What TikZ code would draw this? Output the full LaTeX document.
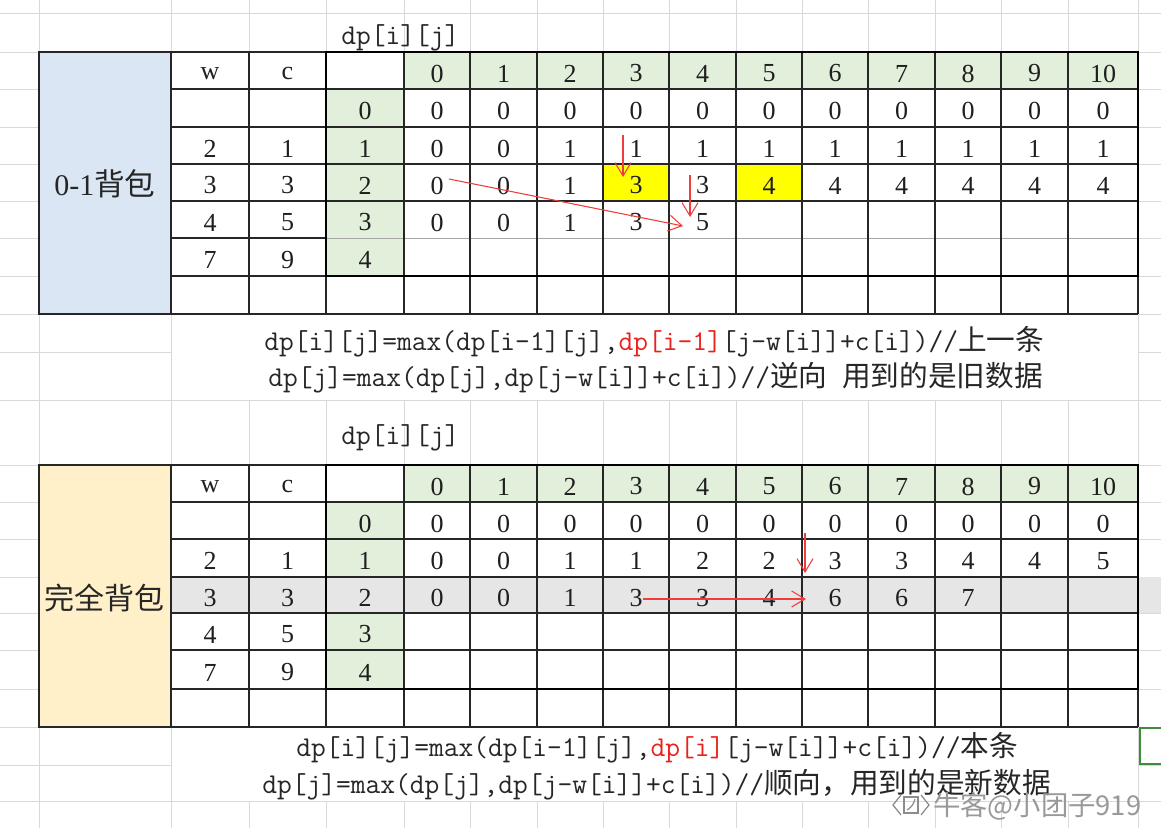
\documentclass[tikz,border=0pt]{standalone}
\usepackage{fontspec}
\newfontfamily\cjk{Noto Sans CJK SC}
\newfontfamily\digf{Liberation Serif}
\usetikzlibrary{arrows.meta}
\definecolor{gridgray}{HTML}{D9D9D9}
\definecolor{hdrgreen}{HTML}{E2EFDA}
\definecolor{lblblue}{HTML}{DAE6F4}
\definecolor{lblyellow}{HTML}{FFF0C9}
\definecolor{rowgray}{HTML}{E6E6E6}
\definecolor{cellyellow}{HTML}{FFFF00}
\definecolor{selgreen}{HTML}{3C8C3C}
\definecolor{arrred}{HTML}{F03C3C}
\definecolor{fred}{HTML}{E8231E}
\newcommand\dprow[4]{%
  \foreach \v [count=\k from 0] in {#4} {
    \pgfmathsetmacro\xx{{437,503.5,570,636,702.5,769,835,901.5,968,1034.5,1103}[\k]}
    \node[dig] (#1#2-\k) at (\xx,#3) {\v};
  }}
\newcommand\wci[6]{%
  \node[dig] (#1#2-w) at (210,#3) {#4};
  \node[dig] (#1#2-c) at (287.5,#3) {#5};
  \node[dig] (#1#2-i) at (365,#3) {#6};}
\begin{document}
\begin{tikzpicture}[x=0.75pt,y=-0.75pt,
  gl/.style={draw=gridgray,line width=0.75pt},
  bl/.style={draw=black!85,line width=1pt},
  thk/.style={draw=black,line width=1.9pt},
  dig/.style={font=\digf\fontsize{19.5}{24}\selectfont,inner sep=0pt,text=black!88},
  fml/.style={font=\ttfamily\fontsize{21.5}{25}\selectfont,anchor=west,inner sep=0pt,text=black!85},
  lbl/.style={font=\digf\fontsize{22.5}{26}\selectfont,inner sep=0pt,text=black!85},
  arr/.style={draw=arrred,line width=0.8pt,-{Straight Barb[length=10pt,width=12pt]}},
]
\useasboundingbox (0,0) rectangle (1161,828);
\fill[white] (0,0) rectangle (1161,828);

% background spreadsheet grid
\foreach \y in {13,52,89,127,164,201,238,276,314,400,465,502,539,577,613,650,689,727,801}
  \draw[gl] (0,\y) -- (1161,\y);
\foreach \y in {352,765} {\draw[gl] (0,\y) -- (171,\y); \draw[gl] (1138,\y) -- (1161,\y);}
\foreach \x in {39,171,1138} \draw[gl] (\x,0) -- (\x,828);
\foreach \x in {249,326,404,470,537,603,669,736,802,868,935,1001,1068} {
  \draw[gl] (\x,0) -- (\x,314); \draw[gl] (\x,400) -- (\x,727); \draw[gl] (\x,801) -- (\x,828);}

% fills top
\fill[lblblue] (39,52) rectangle (171,314);
\fill[hdrgreen] (404,52) rectangle (1138,89);
\fill[hdrgreen] (326,89) rectangle (404,276);
\fill[cellyellow] (603,164) rectangle (669,201);
\fill[cellyellow] (736,164) rectangle (802,201);
% fills bottom
\fill[lblyellow] (39,465) rectangle (171,727);
\fill[hdrgreen] (404,465) rectangle (1138,502);
\fill[rowgray] (171,577) rectangle (1161,613);
\fill[hdrgreen] (326,502) rectangle (404,577);
\fill[hdrgreen] (326,613) rectangle (404,689);

% top table lines
\foreach \y in {52,89,127,164,201,276,314} \draw[bl] (171,\y) -- (1138,\y);
\draw[bl] (171,238) -- (326,238);
\draw[draw=black!35,line width=0.6pt] (326,238) -- (1138,238);
\foreach \x in {171,249,326,404,470,537,603,669,736,802,868,935,1001,1068,1138} \draw[bl] (\x,52) -- (\x,314);
\draw[bl] (39,52) rectangle (171,314);
\draw[thk] (326,52) rectangle (1138,276);
% bottom table lines
\foreach \y in {465,502,539,577,613,650,689,727} \draw[bl] (171,\y) -- (1138,\y);
\foreach \x in {171,249,326,404,470,537,603,669,736,802,868,935,1001,1068,1138} \draw[bl] (\x,465) -- (\x,727);
\draw[bl] (39,465) rectangle (171,727);
\draw[thk] (326,465) rectangle (1138,689);
% selected cell
\draw[selgreen,line width=2.2pt] (1163,728) -- (1140,728) -- (1140,764) -- (1163,764);

% top table text
\node[fml] (Atitle) at (341,38) {dp[i][j]};
\node[lbl] (Alabel) at (105,184) {0-1{\cjk\fontsize{23}{26}\selectfont 背包}};
\node[dig] (Ahw) at (210,73.5) {w};
\node[dig] (Ahc) at (287.5,73.5) {c};
\dprow{A}{h}{73.5}{0,1,2,3,4,5,6,7,8,9,10}
\wci{A}{0}{111}{}{}{0}
\dprow{A}{0}{111}{0,0,0,0,0,0,0,0,0,0,0}
\wci{A}{1}{148.5}{2}{1}{1}
\dprow{A}{1}{148.5}{0,0,1,1,1,1,1,1,1,1,1}
\wci{A}{2}{185.5}{3}{3}{2}
\dprow{A}{2}{185.5}{0,0,1,3,3,4,4,4,4,4,4}
\wci{A}{3}{222.5}{4}{5}{3}
\dprow{A}{3}{222.5}{0,0,1,3,5}
\wci{A}{4}{260}{7}{9}{4}

% top formulas
\node[fml] (Af1) at (264,342) {dp[i][j]=max(dp[i-1][j],\textcolor{fred}{dp[i-1]}[j-w[i]]+c[i])//{\cjk 上一条}};
\node[fml] (Af2) at (268,378) {dp[j]=max(dp[j],dp[j-w[i]]+c[i])//{\cjk 逆向} {\cjk 用到的是旧数据}};

% bottom table text
\node[fml] (Btitle) at (341,438) {dp[i][j]};
\node[lbl] (Blabel) at (105,598) {\cjk\fontsize{22.5}{26}\selectfont 完全背包};
\node[dig] (Bhw) at (210,486.5) {w};
\node[dig] (Bhc) at (287.5,486.5) {c};
\dprow{B}{h}{486.5}{0,1,2,3,4,5,6,7,8,9,10}
\wci{B}{0}{523.5}{}{}{0}
\dprow{B}{0}{523.5}{0,0,0,0,0,0,0,0,0,0,0}
\wci{B}{1}{561}{2}{1}{1}
\dprow{B}{1}{561}{0,0,1,1,2,2,3,3,4,4,5}
\wci{B}{2}{598}{3}{3}{2}
\dprow{B}{2}{598}{0,0,1,3,3,4,6,6,7}
\wci{B}{3}{634.5}{4}{5}{3}
\wci{B}{4}{672.5}{7}{9}{4}

% bottom formulas
\node[fml] (Bf1) at (296,748) {dp[i][j]=max(dp[i-1][j],\textcolor{fred}{dp[i]}[j-w[i]]+c[i])//{\cjk 本条}};
\node[fml] (Bf2) at (262,785) {dp[j]=max(dp[j],dp[j-w[i]]+c[i])//{\cjk 顺向，用到的是新数据}};

% arrows
\coordinate (a1s) at (449,179); \coordinate (a1e) at (683,226);
\coordinate (a2s) at (623,135); \coordinate (a2e) at (623,177);
\coordinate (a3s) at (690,175); \coordinate (a3e) at (690,217);
\coordinate (b1s) at (805,533); \coordinate (b1e) at (805,573);
\coordinate (b2s) at (643,599); \coordinate (b2e) at (806,599);
\draw[arr] (a1s) -- (a1e);
\draw[arr] (a2s) -- (a2e);
\draw[arr] (a3s) -- (a3e);
\draw[arr] (b1s) -- (b1e);
\draw[arr] (b2s) -- (b2e);

% watermark
\draw[black!45,line width=0.9pt] (901,795) -- (893,805) -- (901,815);
\draw[black!45,line width=0.9pt] (904,797) rectangle (918,813);
\draw[black!45,line width=0.9pt] (907,810) .. controls (912,807) and (914,803) .. (915,799);
\draw[black!45,line width=0.9pt] (921,795) -- (929,805) -- (921,815);
\node[font=\cjk\fontsize{20.5}{24}\selectfont,text=black!40,anchor=west,inner sep=0pt] (wm) at (933,806) {牛客@小团子919};
\end{tikzpicture}
\end{document}
